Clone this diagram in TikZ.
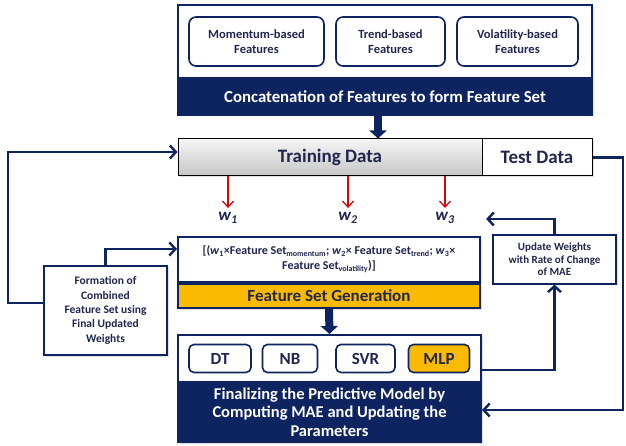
\documentclass[tikz,border=0pt]{standalone}
\usepackage{fontspec}
\setmainfont{Carlito}
\usetikzlibrary{arrows.meta,shadows}
\definecolor{navy}{RGB}{14,36,96}
\definecolor{gold}{RGB}{250,186,0}
\definecolor{ink}{RGB}{32,38,78}
\definecolor{redline}{RGB}{210,10,10}
\tikzset{
  shade1/.style={drop shadow={opacity=0.25,shadow xshift=1.5pt,shadow yshift=-1.5pt}},
  outerbox/.style={draw=navy,line width=2pt,fill=white,shade1},
  bandbox/.style={draw=navy,line width=2pt,fill=navy,text=white,font=\bfseries},
  featbox/.style={draw=navy,line width=1.6pt,rounded corners=7pt,fill=white,text=ink,
    font=\bfseries\fontsize{12.5}{15}\selectfont,align=center},
  modelbox/.style={draw=navy,line width=1.6pt,rounded corners=5pt,fill=white,text=ink,
    font=\bfseries\fontsize{17}{19}\selectfont,minimum height=28pt},
  plainbox/.style={draw=navy,line width=2pt,fill=white,text=ink,align=center,font=\bfseries,shade1},
  loopline/.style={draw=navy,line width=2.4pt},
  looparrow/.style={loopline,-{Straight Barb[length=6pt,width=13pt,line width=2.4pt]}},
  bigarrow/.style={draw=navy,line width=8pt,-{Triangle[length=8pt,width=17pt]}},
  redarrow/.style={draw=redline,line width=1.3pt,-{Straight Barb[length=6pt,width=11pt,line width=1.3pt]}},
  wlabel/.style={font=\bfseries\itshape\fontsize{17}{19}\selectfont,text=ink},
}
\begin{document}
\begin{tikzpicture}[x=1pt,y=-1pt]
\useasboundingbox (0,0) rectangle (626,446);

% feature extraction block
\node[outerbox,minimum width=414pt,minimum height=110pt] (top) at (385,60) {};
\node[bandbox,minimum width=414pt,minimum height=37pt,font=\bfseries\fontsize{16.8}{19}\selectfont] (concat) at (385,96.5)
  {Concatenation of Features to form Feature Set};
\node[featbox,minimum width=135pt,minimum height=49pt] (mom) at (256.5,41.5) {Momentum-based\\Features};
\node[featbox,minimum width=109pt,minimum height=49pt] (trend) at (390.5,41.5) {Trend-based\\Features};
\node[featbox,minimum width=121pt,minimum height=49pt] (vol) at (517.5,41.5) {Volatility-based\\Features};

% data split
\node[draw=black,line width=1pt,top color=gray!8,bottom color=gray!45,minimum width=304pt,minimum height=37pt,
  text=ink,font=\bfseries\fontsize{19}{21}\selectfont,shade1] (train) at (330,157.5) {Training Data};
\node[draw=black,line width=1pt,fill=white,minimum width=110pt,minimum height=37pt,
  text=ink,font=\bfseries\fontsize{19}{21}\selectfont,shade1] (test) at (537,157.5) {Test Data};

\coordinate (a1) at (378,0);
\draw[bigarrow] (concat.south -| a1) -- (train.north -| a1);

% weights
\node[wlabel] (w1) at (228,218) {w\textsubscript{1}};
\node[wlabel] (w2) at (348,218) {w\textsubscript{2}};
\node[wlabel] (w3) at (445,218) {w\textsubscript{3}};
\draw[redarrow] (train.south -| w1) -- ([yshift=1pt]w1.north);
\draw[redarrow] (train.south -| w2) -- ([yshift=1pt]w2.north);
\draw[redarrow] (train.south -| w3) -- ([yshift=1pt]w3.north);

% combined feature set
\node[plainbox,minimum width=302pt,minimum height=45pt,font=\bfseries\fontsize{12}{15}\selectfont] (formula) at (329,259.5)
  {[(\textit{w}\textsubscript{1}×Feature Set\textsubscript{momentum}; \textit{w}\textsubscript{2}× Feature Set\textsubscript{trend}; \textit{w}\textsubscript{3}×\\
   Feature Set\textsubscript{volatility})]};
\node[draw=navy,line width=2pt,fill=gold,minimum width=302pt,minimum height=24pt,text=ink,
  font=\bfseries\fontsize{17}{19}\selectfont,shade1] (fsg) at (329,296) {Feature Set Generation};

% model block
\node[outerbox,minimum width=303pt,minimum height=107pt] (bottom) at (329.5,388.5) {};
\node[bandbox,minimum width=303pt,minimum height=60pt,align=center,font=\bfseries\fontsize{16.5}{18.5}\selectfont] (final) at (329.5,412)
  {Finalizing the Predictive Model by\\Computing MAE and Updating the\\Parameters};
\node[modelbox,minimum width=62pt] (dt) at (220,358.5) {DT};
\node[modelbox,minimum width=55pt] (nb) at (290,358.5) {NB};
\node[modelbox,minimum width=59pt] (svr) at (365.5,358.5) {SVR};
\node[modelbox,minimum width=61pt,fill=gold] (mlp) at (439,358.5) {MLP};

\draw[bigarrow] (fsg.south) -- (bottom.north);

% side boxes
\node[plainbox,minimum width=123pt,minimum height=89pt,font=\bfseries\fontsize{11.5}{14.3}\selectfont] (form) at (105.5,310.5)
  {Formation of\\Combined\\Feature Set using\\Final Updated\\Weights};
\node[plainbox,minimum width=123pt,minimum height=48pt,font=\bfseries\fontsize{11}{12.5}\selectfont] (update) at (554.5,259.5)
  {Update Weights\\with Rate of Change\\of MAE};

% feedback loops
\coordinate (lx) at (8,0);
\coordinate (rx) at (623,0);
\draw[looparrow] (form.west |- 0,303) -- (lx |- 0,303) -- (lx |- 0,152) -- (train.west |- 0,152);
\draw[looparrow] (form.north) |- (formula.west |- 0,249);
\draw[looparrow] (test.east) -- (rx |- test.east) -- (rx |- 0,410) -- (bottom.east |- 0,410);
\draw[looparrow] (bottom.east |- 0,370) -| (update.south);
\draw[looparrow] (update.north) |- ([xshift=28pt]w3.east |- 0,219);
\end{tikzpicture}
\end{document}
